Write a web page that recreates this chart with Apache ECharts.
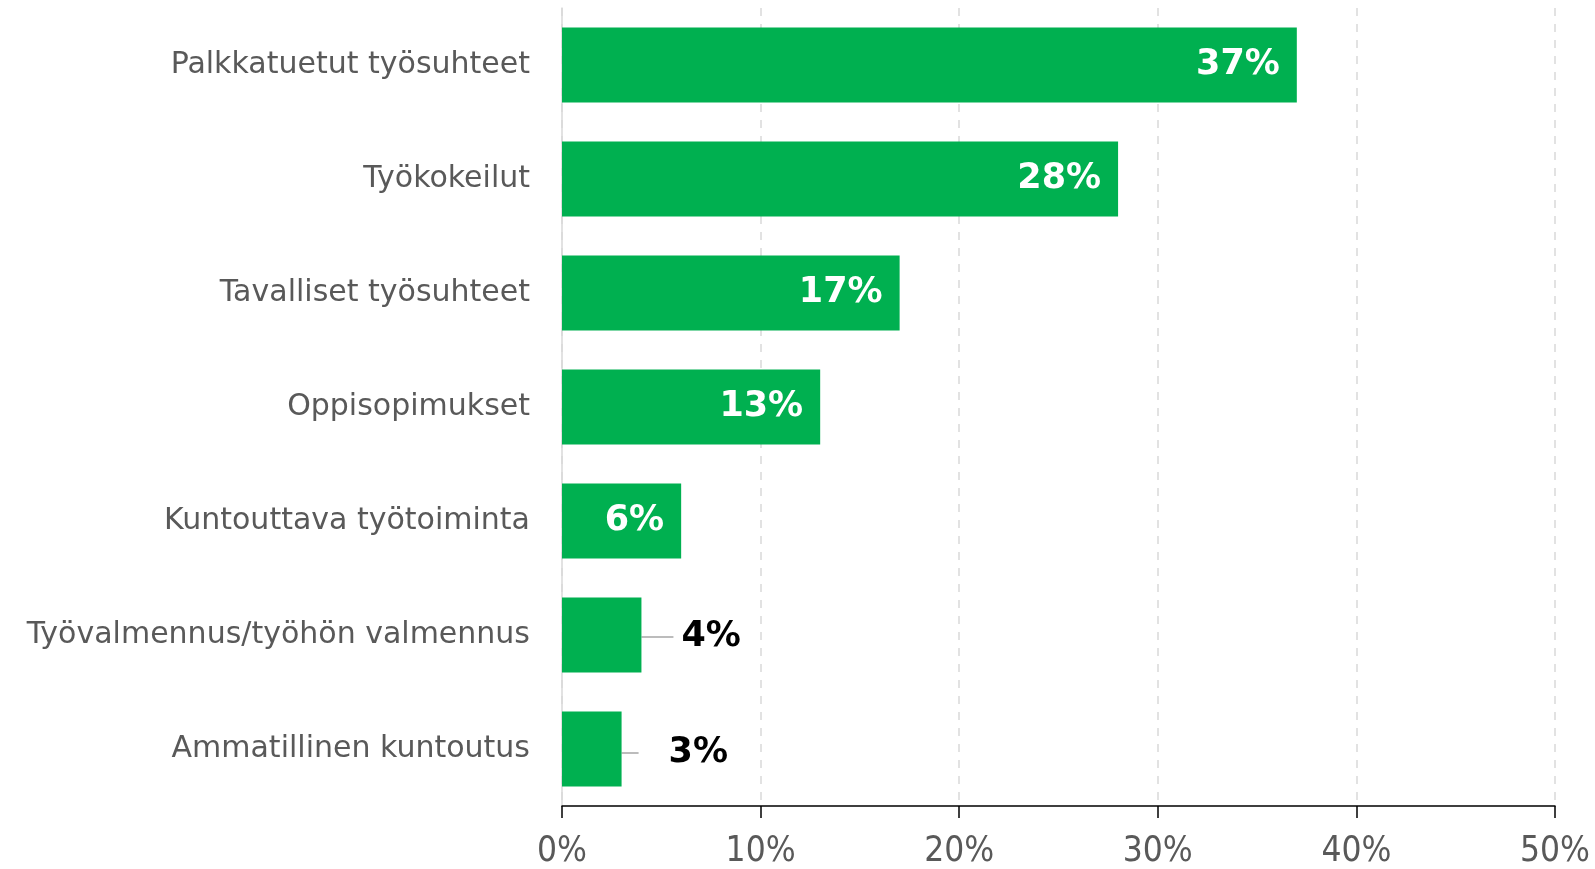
<!DOCTYPE html>
<html>
<head>
<meta charset="utf-8">
<script src="https://cdn.jsdelivr.net/npm/echarts@6/dist/echarts.min.js"></script>
<style>
  html, body { margin: 0; padding: 0; background: #fff; }
  #chart { width: 1595px; height: 869px; }
</style>
</head>
<body>
<div id="chart"></div>
<script>
// data
var categories = [
  "Palkkatuetut työsuhteet",
  "Työkokeilut",
  "Tavalliset työsuhteet",
  "Oppisopimukset",
  "Kuntouttava työtoiminta",
  "Työvalmennus/työhön valmennus",
  "Ammatillinen kuntoutus"
];
var values = [37, 28, 17, 13, 6, 4, 3];
var xTicks = [0, 10, 20, 30, 40, 50];

var font = "DejaVu Sans";
var chart = echarts.init(document.getElementById("chart"));

// small bars get their label outside, with a line: [dx, dy, gap before text]
var outside = { 5: [28, 2, 8], 6: [13, 4, 30] };

chart.setOption({
  animation: false,
  grid: { left: 562, right: 40, top: 8, bottom: 60 },
  xAxis: {
    type: "value",
    min: xTicks[0],
    max: xTicks[xTicks.length - 1],
    interval: 10,
    axisLine: { show: true, lineStyle: { color: "#000", width: 1.5 } },
    axisTick: { show: true, length: 12, lineStyle: { color: "#000", width: 1.5 } },
    axisLabel: {
      formatter: "{value}%",
      color: "#595959",
      fontSize: 35,
      fontFamily: "DejaVu Sans Condensed",
      margin: 28
    },
    splitLine: { show: true, lineStyle: { color: "#d9d9d9", type: [8, 8], width: 1.5 } }
  },
  yAxis: {
    type: "category",
    inverse: true,
    data: categories,
    axisLine: { show: true, lineStyle: { color: "#d9d9d9", width: 1.5 } },
    axisTick: { show: false },
    axisLabel: {
      color: "#595959",
      fontSize: 30,
      fontFamily: font,
      margin: 32
    }
  },
  series: [{
    type: "bar",
    barWidth: "66%",
    itemStyle: { color: "#00b050" },
    data: values.map(function (v, i) {
      var o = outside[i];
      if (!o) {
        return {
          value: v,
          label: {
            show: true,
            position: "insideRight",
            distance: 17,
            formatter: "{c}%",
            color: "#fff",
            fontWeight: "bold",
            fontSize: 35,
            fontFamily: font
          }
        };
      }
      return {
        value: v,
        label: {
          show: true,
          position: "right",
          distance: 4,
          formatter: "{g|}{v|{c}%}",
          rich: {
            g: { width: o[2] },
            v: { color: "#000", fontWeight: "bold", fontSize: 35, fontFamily: font }
          }
        },
        labelLine: { show: true, lineStyle: { color: "#a6a6a6", width: 1.5 } }
      };
    }),
    labelLayout: function (p) {
      var o = outside[p.dataIndex];
      return o ? { dx: o[0], dy: o[1] } : {};
    }
  }]
});
</script>
</body>
</html>
